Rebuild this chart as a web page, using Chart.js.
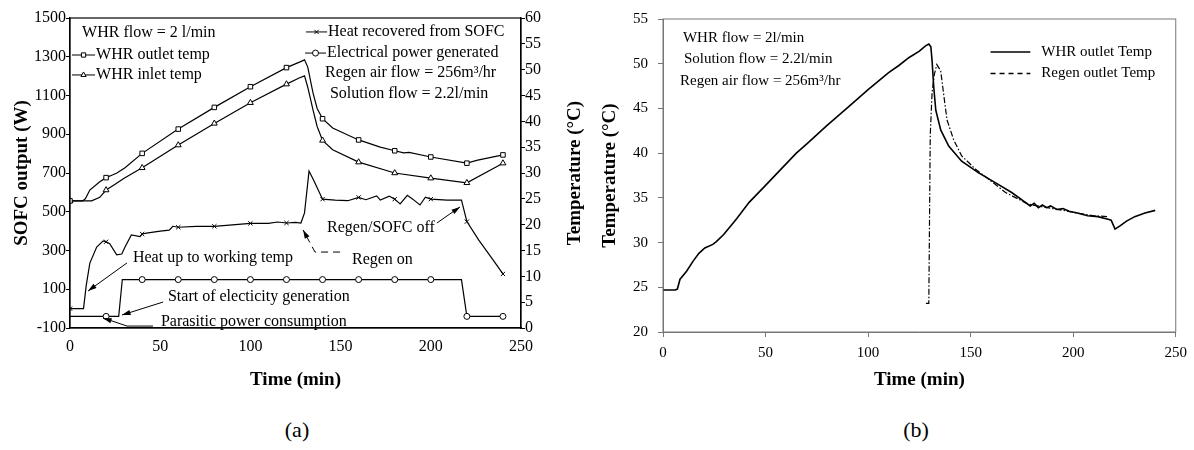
<!DOCTYPE html>
<html>
<head>
<meta charset="utf-8">
<script src="https://cdn.jsdelivr.net/npm/chart.js@4.4.1/dist/chart.umd.min.js"></script>
<style>
  body { margin: 0; background: #fff; }
  .wrap { position: relative; width: 1194px; height: 450px; font-family: "Liberation Serif", "Times New Roman", serif; }
  canvas { position: absolute; top: 0; }
  #chartA { left: 0; }
  #chartB { left: 592px; }
  .cap { position: absolute; top: 417px; font-size: 22px; transform: translateX(-50%); }
</style>
</head>
<body>
<div class="wrap">
  <canvas id="chartA" width="592" height="400"></canvas>
  <canvas id="chartB" width="602" height="400"></canvas>
  <div class="cap" style="left:297px">(a)</div>
  <div class="cap" style="left:916px">(b)</div>
</div>
<script>
// ---------- (a) SOFC output and WHR temperatures ----------
const timeTicks = [0, 50, 100, 150, 200, 250]

const outletTime = [0, 7, 8.5, 11, 16.5, 20, 23.5, 26, 30.5, 40, 60, 80, 100, 120, 127.5, 130, 131.8, 134.7, 137, 140, 145.6, 160, 172, 180, 185, 188, 200, 220, 226, 240]
const outletTemp = [24.6, 24.6, 25.0, 26.7, 28.3, 29.1, 29.6, 30.0, 31.0, 33.8, 38.5, 42.7, 46.7, 50.4, 51.5, 51.9, 50.5, 45.5, 42.5, 40.5, 38.7, 36.4, 35.0, 34.3, 33.9, 34.0, 33.1, 31.9, 32.5, 33.5]

const inletTime = [0, 12, 16.5, 20, 25, 30, 40, 60, 80, 100, 120, 127, 130, 131.8, 134.7, 137, 140, 145.6, 160, 180, 200, 220, 240]
const inletTemp = [24.6, 24.6, 25.3, 26.7, 27.8, 29.0, 31.0, 35.4, 39.6, 43.6, 47.2, 48.4, 48.8, 46.6, 42.2, 39.0, 36.3, 34.5, 32.1, 30.0, 29.0, 28.1, 31.9]

const heatTime = [0, 7.5, 9, 11, 14.8, 18.4, 20, 22, 25.9, 28.7, 30.5, 34, 38.8, 40, 42.4, 50, 55, 57, 60, 70, 80, 90, 100, 110, 115, 120, 125, 128, 130, 132.5, 135, 140, 147, 154, 160, 164, 170, 172, 177, 180, 183, 187, 190, 194, 197, 200, 209, 214, 217, 220, 226.6, 233.8, 240]
const heatPower = [0, 0, 120, 235, 318, 350, 345, 335, 278, 282, 318, 380, 372, 385, 390, 400, 405, 425, 420, 425, 425, 432, 440, 440, 447, 442, 445, 442, 494, 710, 664, 565, 560, 557, 574, 562, 582, 560, 580, 565, 540, 585, 565, 535, 575, 565, 560, 560, 560, 449, 354, 261, 179]

const elecTime = [0, 20, 27, 29, 40, 60, 80, 100, 120, 140, 160, 180, 200, 217, 220, 240]
const elecPower = [-40, -40, -40, 150, 150, 150, 150, 150, 150, 150, 150, 150, 150, 150, -40, -40]

const marksAll = [0, 20, 40, 60, 80, 100, 120, 140, 160, 180, 200, 220, 240]
const marksElec = [20, 40, 60, 80, 100, 120, 140, 160, 180, 200, 220, 240]

// ---------- (b) WHR and regenerator outlet temperatures ----------
const whrTime = [0, 6, 7, 8.3, 11.5, 14.6, 17.5, 20.4, 24.3, 26, 29.6, 36, 42, 50, 60, 65, 70, 80, 90, 100, 110, 115, 120, 125, 128, 129.6, 130.6, 131.2, 132, 133, 135.4, 139.3, 145.6, 153.9, 162, 170, 176.7, 179, 181, 183, 185, 187, 189, 192, 195, 198, 202, 207, 212, 217, 218.5, 220.4, 223, 226, 230, 235, 240]
const whrTemp = [24.7, 24.7, 24.8, 25.9, 26.8, 27.9, 28.8, 29.4, 29.8, 30.1, 30.9, 32.7, 34.5, 36.4, 38.8, 40.0, 41.0, 43.1, 45.1, 47.1, 49.0, 49.8, 50.7, 51.4, 52.0, 52.2, 51.9, 50.3, 47.4, 44.8, 42.6, 40.8, 39.1, 37.8, 36.7, 35.6, 34.5, 34.1, 34.4, 33.9, 34.2, 33.9, 34.1, 33.7, 33.8, 33.5, 33.3, 33.0, 32.9, 32.6, 32.5, 31.5, 31.9, 32.4, 32.9, 33.3, 33.6]

const regenTime = [128.2, 129.6, 130.3, 131.2, 132.3, 133.5, 135.4, 137, 138.5, 141.7, 145.6, 152.4, 158.7, 167, 178, 185, 190, 195, 202, 210, 217]
const regenTemp = [23.2, 23.2, 42, 46.8, 48.8, 49.9, 49.2, 46.3, 43.7, 41.5, 39.7, 38.2, 37.1, 35.6, 34.3, 34.0, 33.8, 33.6, 33.3, 33.0, 32.9]

const serif = "'Liberation Serif', 'Times New Roman', serif"
Chart.defaults.font.family = serif
Chart.defaults.color = "#000"

const pts = (xs, ys) => xs.map((x, i) => ({ x: x, y: ys[i] }))
const markAt = (marks, r) => (c) => (c.raw && marks.includes(c.raw.x) ? r : 0)
const plain = (v) => String(v)

// text / arrow annotations, placed in data units
const notesA = [
  { text: "WHR flow = 2 l/min", t: 6.7, v: 1423 },
  { text: "Regen air flow = 256m\u00b3/hr", t: 141.4, v: 1216 },
  { text: "Solution flow = 2.2l/min", t: 144.1, v: 1108 },
  { text: "Heat up to working temp", t: 34.9, v: 261 },
  { text: "Start of electicity generation", t: 54.3, v: 60 },
  { text: "Parasitic power consumption", t: 50.4, v: -69 },
  { text: "Regen on", t: 156.3, v: 251 },
  { text: "Regen/SOFC off", t: 142.5, v: 416 },
]
const arrowsA = [
  { path: [[31.6, 236], [10, 91]] },
  { path: [[51.6, 34], [28.8, -33]] },
  { path: [[46, -90], [31.6, -90], [18.3, -48]] },
  { path: [[149.7, 292], [135.8, 292], [129.2, 406]], dash: [7, 5] },
  { path: [[203.4, 442], [216.2, 525]] },
]
const legendA = [
  { ds: 0, t0: 1.1, t1: 13.9, v: 1309 },
  { ds: 1, t0: 1.1, t1: 13.9, v: 1206 },
  { ds: 2, t0: 130.8, t1: 142.5, v: 1428 },
  { ds: 3, t0: 130.3, t1: 141.9, v: 1319 },
]

function arrowHead(ctx, x0, y0, x1, y1) {
  const a = Math.atan2(y1 - y0, x1 - x0)
  ctx.beginPath()
  ctx.moveTo(x1, y1)
  ctx.lineTo(x1 - 9 * Math.cos(a - 0.3), y1 - 9 * Math.sin(a - 0.3))
  ctx.lineTo(x1 - 9 * Math.cos(a + 0.3), y1 - 9 * Math.sin(a + 0.3))
  ctx.closePath()
  ctx.fill()
}

const decorA = {
  id: "decorA",
  afterDraw(chart) {
    const { ctx, chartArea: area, scales } = chart
    const X = (t) => scales.x.getPixelForValue(t)
    const Y = (v) => scales.y.getPixelForValue(v)
    ctx.save()
    ctx.strokeStyle = "#000"
    ctx.fillStyle = "#000"
    ctx.lineWidth = 1.2
    ctx.strokeRect(area.left, area.top, area.right - area.left, area.bottom - area.top)

    ctx.font = "16px " + serif
    ctx.textBaseline = "middle"
    ctx.textAlign = "left"
    notesA.forEach((n) => ctx.fillText(n.text, X(n.t), Y(n.v)))

    legendA.forEach((l) => {
      const ds = chart.data.datasets[l.ds]
      const x0 = X(l.t0), x1 = X(l.t1), y = Y(l.v)
      ctx.lineWidth = 1
      ctx.beginPath()
      ctx.moveTo(x0, y)
      ctx.lineTo(x1, y)
      ctx.stroke()
      ctx.fillStyle = "#fff"
      Chart.helpers.drawPoint(ctx, { pointStyle: ds.pointStyle, radius: 3, rotation: 0, borderWidth: 1 }, (x0 + x1) / 2, y)
      ctx.fillStyle = "#000"
      ctx.fillText(ds.label, x1 + 1, y)
    })

    arrowsA.forEach((a) => {
      const p = a.path.map((q) => [X(q[0]), Y(q[1])])
      ctx.lineWidth = 1
      ctx.setLineDash(a.dash || [])
      ctx.beginPath()
      p.forEach((q, i) => (i ? ctx.lineTo(q[0], q[1]) : ctx.moveTo(q[0], q[1])))
      ctx.stroke()
      ctx.setLineDash([])
      const n = p.length
      arrowHead(ctx, p[n - 2][0], p[n - 2][1], p[n - 1][0], p[n - 1][1])
    })

    // right axis title reads bottom-to-top like the left one
    ctx.font = "bold 19px " + serif
    ctx.textAlign = "center"
    ctx.translate(area.right + 54, (area.top + area.bottom) / 2)
    ctx.rotate(-Math.PI / 2)
    ctx.fillText("Temperature (\u00b0C)", 0, 0)
    ctx.restore()
  },
}

const border = { color: "#000", width: 1.2 }

new Chart(document.getElementById("chartA"), {
  type: "line",
  data: {
    datasets: [
      {
        label: "WHR outlet temp",
        data: pts(outletTime, outletTemp),
        yAxisID: "y2",
        pointStyle: "rect",
        pointRadius: markAt(marksAll, 3.2),
      },
      {
        label: "WHR inlet temp",
        data: pts(inletTime, inletTemp),
        yAxisID: "y2",
        pointStyle: "triangle",
        pointRadius: markAt(marksAll, 3.4),
      },
      {
        label: "Heat recovered from SOFC",
        data: pts(heatTime, heatPower),
        yAxisID: "y",
        pointStyle: "crossRot",
        pointRadius: markAt(marksAll, 3),
      },
      {
        label: "Electrical power generated",
        data: pts(elecTime, elecPower),
        yAxisID: "y",
        pointStyle: "circle",
        pointRadius: markAt(marksElec, 3),
      },
    ],
  },
  options: {
    responsive: false,
    animation: false,
    devicePixelRatio: 1,
    layout: { padding: { top: 18 } },
    elements: {
      line: { borderColor: "#000", borderWidth: 1.2, tension: 0, fill: false },
      point: { backgroundColor: "#fff", borderColor: "#000", borderWidth: 1, hoverRadius: 0 },
    },
    plugins: { legend: { display: false }, tooltip: { enabled: false } },
    scales: {
      x: {
        type: "linear",
        min: 0,
        max: 250,
        afterBuildTicks: (s) => { s.ticks = timeTicks.map((v) => ({ value: v })) },
        afterFit: (s) => { s.height = 72 },
        ticks: { font: { size: 16 }, padding: 9, callback: plain },
        grid: { drawOnChartArea: false, drawTicks: false },
        border,
        title: { display: true, text: "Time (min)", font: { size: 19, weight: "bold" }, padding: { top: 0, bottom: 9 } },
      },
      y: {
        position: "left",
        min: -100,
        max: 1500,
        ticks: { stepSize: 200, font: { size: 16 }, padding: 0, callback: plain },
        grid: { drawOnChartArea: false, color: "#000", tickLength: 4 },
        border,
        afterFit: (s) => { s.width = 70 },
        title: { display: true, text: "SOFC output (W)", font: { size: 19, weight: "bold" }, padding: { top: 11, bottom: 0 } },
      },
      y2: {
        position: "right",
        min: 0,
        max: 60,
        ticks: { stepSize: 5, font: { size: 16 }, padding: 0, callback: plain },
        grid: { drawOnChartArea: false, color: "#000", tickLength: 4 },
        border,
        afterFit: (s) => { s.width = 71 },
      },
    },
  },
  plugins: [decorA],
})

// ---------- panel (b) ----------
const notesB = [
  { text: "WHR flow = 2l/min", t: 9.7, v: 52.9 },
  { text: "Solution flow = 2.2l/min", t: 10.2, v: 50.5 },
  { text: "Regen air flow = 256m\u00b3/hr", t: 8.3, v: 48.1 },
]
const legendB = [
  { ds: 0, t0: 159.7, t1: 179.1, v: 51.3, dash: [] },
  { ds: 1, t0: 159.7, t1: 179.1, v: 48.9, dash: [5, 4] },
]

const decorB = {
  id: "decorB",
  afterDraw(chart) {
    const { ctx, chartArea: area, scales } = chart
    const X = (t) => scales.x.getPixelForValue(t)
    const Y = (v) => scales.y.getPixelForValue(v)
    ctx.save()
    ctx.strokeStyle = "#777"
    ctx.lineWidth = 1
    ctx.strokeRect(area.left, area.top, area.right - area.left, area.bottom - area.top)
    ctx.fillStyle = "#000"
    ctx.strokeStyle = "#000"
    ctx.font = "15px " + serif
    ctx.textBaseline = "middle"
    notesB.forEach((n) => ctx.fillText(n.text, X(n.t), Y(n.v)))
    legendB.forEach((l) => {
      ctx.lineWidth = 1.5
      ctx.setLineDash(l.dash)
      ctx.beginPath()
      ctx.moveTo(X(l.t0), Y(l.v))
      ctx.lineTo(X(l.t1), Y(l.v))
      ctx.stroke()
      ctx.setLineDash([])
      ctx.fillText(chart.data.datasets[l.ds].label, X(l.t1) + 11, Y(l.v))
    })
    ctx.restore()
  },
}

const axisB = {
  border: { color: "#777", width: 1 },
  grid: { drawOnChartArea: false, color: "#777", tickLength: 5 },
}

new Chart(document.getElementById("chartB"), {
  type: "line",
  data: {
    datasets: [
      { label: "WHR outlet Temp", data: pts(whrTime, whrTemp), borderWidth: 1.6 },
      { label: "Regen outlet Temp", data: pts(regenTime, regenTemp), borderWidth: 1.2, borderDash: [6, 2, 1.5, 2] },
    ],
  },
  options: {
    responsive: false,
    animation: false,
    devicePixelRatio: 1,
    layout: { padding: { top: 14, right: 16 } },
    elements: {
      line: { borderColor: "#000", tension: 0, fill: false },
      point: { radius: 0, hoverRadius: 0 },
    },
    plugins: { legend: { display: false }, tooltip: { enabled: false } },
    scales: {
      x: {
        type: "linear",
        min: 0,
        max: 250,
        afterBuildTicks: (s) => { s.ticks = timeTicks.map((v) => ({ value: v })) },
        afterFit: (s) => { s.height = 68 },
        ticks: { font: { size: 15 }, padding: 7 },
        title: { display: true, text: "Time (min)", font: { size: 19, weight: "bold" }, padding: { top: 0, bottom: 9 } },
        ...axisB,
      },
      y: {
        min: 20,
        max: 55,
        ticks: { stepSize: 5, font: { size: 15 }, padding: 10 },
        afterFit: (s) => { s.width = 71 },
        title: { display: true, text: "Temperature (\u00b0C)", font: { size: 19, weight: "bold" }, padding: { top: 7, bottom: 0 } },
        ...axisB,
      },
    },
  },
  plugins: [decorB],
})
</script>
</body>
</html>
